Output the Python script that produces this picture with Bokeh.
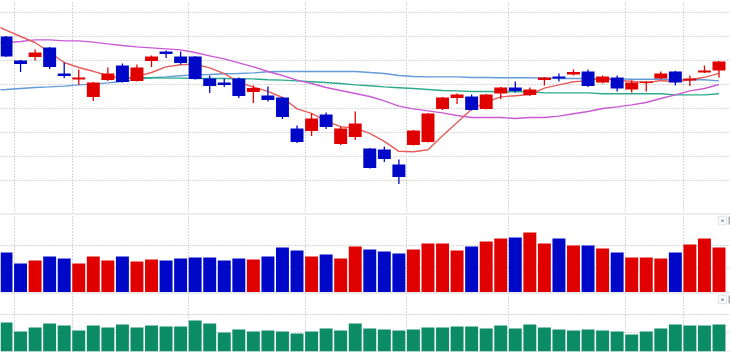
from bokeh.plotting import figure
from bokeh.layouts import column
from bokeh.models import Range1d, FixedTicker, Grid, BoxAnnotation, ColumnDataSource
from bokeh.embed import file_html
from bokeh.resources import INLINE

# ---------------- data ----------------
opens = [27720, 27600, 27617, 27665, 27535, 27505, 27417, 27502, 27575, 27497,
         27597, 27645, 27620, 27620, 27510, 27490, 27510, 27442, 27425, 27415,
         27260, 27247, 27330, 27182, 27217, 27160, 27155, 27080, 27177, 27192,
         27357, 27412, 27420, 27357, 27435, 27465, 27427, 27502, 27520, 27530,
         27545, 27490, 27515, 27455, 27488, 27510, 27545, 27500, 27540, 27550]
highs = [27722, 27602, 27655, 27667, 27590, 27555, 27492, 27565, 27585, 27580,
         27625, 27650, 27645, 27622, 27525, 27510, 27515, 27475, 27470, 27417,
         27275, 27335, 27340, 27270, 27345, 27162, 27170, 27105, 27252, 27337,
         27417, 27435, 27430, 27432, 27467, 27495, 27465, 27517, 27535, 27555,
         27555, 27525, 27525, 27500, 27497, 27545, 27547, 27525, 27575, 27597]
lows = [27618, 27542, 27600, 27557, 27512, 27477, 27397, 27497, 27490, 27495,
        27567, 27612, 27580, 27505, 27437, 27467, 27412, 27387, 27395, 27307,
        27187, 27222, 27257, 27177, 27202, 27060, 27092, 26982, 27175, 27190,
        27352, 27382, 27350, 27355, 27407, 27440, 27422, 27475, 27495, 27525,
        27467, 27485, 27445, 27440, 27445, 27508, 27475, 27472, 27538, 27515]
closes = [27620, 27582, 27640, 27567, 27522, 27515, 27490, 27535, 27492, 27565,
          27620, 27632, 27587, 27507, 27472, 27477, 27422, 27462, 27402, 27317,
          27192, 27310, 27267, 27260, 27285, 27062, 27107, 27017, 27250, 27335,
          27415, 27430, 27352, 27430, 27465, 27447, 27455, 27515, 27510, 27542,
          27472, 27520, 27460, 27490, 27495, 27535, 27490, 27510, 27550, 27595]

volume = [4000, 2900, 3200, 3600, 3400, 2900, 3600, 3200, 3600, 3100,
          3300, 3200, 3400, 3500, 3500, 3200, 3400, 3300, 3600, 4500,
          4200, 3600, 3800, 3400, 4600, 4300, 4100, 3900, 4300, 4900,
          4900, 4200, 4600, 5100, 5400, 5500, 6000, 4900, 5400, 4700,
          4700, 4400, 4000, 3500, 3500, 3400, 4000, 4800, 5400, 4500]

indicator = [29, 20, 24, 28, 26, 21, 26, 24, 27, 24,
             26, 25, 25, 31, 28, 19, 22, 20, 21, 20,
             18, 20, 23, 21, 28, 23, 22, 21, 22, 24,
             24, 25, 25, 23, 26, 23, 27, 24, 22, 21,
             22, 21, 20, 17, 20, 23, 27, 26, 26, 27]

# moving averages, bar index -1 .. 49 (index -1 lies just left of the view)
ma_x = list(range(-1, 50))
ma_red = [27785, 27752, 27720, 27690, 27640, 27590, 27565, 27546, 27525, 27510,
          27519, 27540, 27568, 27579, 27582, 27563, 27534, 27492, 27467, 27446,
          27415, 27358, 27336, 27297, 27269, 27262, 27236, 27196, 27146, 27144,
          27154, 27224, 27290, 27356, 27392, 27418, 27424, 27430, 27462, 27478,
          27494, 27498, 27512, 27500, 27496, 27488, 27500, 27494, 27504, 27516,
          27536]
ma_magenta = [27688, 27689, 27695, 27703, 27703, 27698, 27698, 27692, 27683, 27675,
              27668, 27663, 27658, 27653, 27640, 27623, 27608, 27588, 27568, 27545,
              27525, 27502, 27485, 27465, 27450, 27435, 27420, 27398, 27372, 27358,
              27348, 27338, 27325, 27315, 27315, 27315, 27310, 27315, 27315, 27322,
              27334, 27345, 27360, 27368, 27378, 27390, 27410, 27428, 27448, 27460,
              27480]
ma_blue = [27452, 27455, 27460, 27465, 27468, 27472, 27478, 27482, 27488, 27495,
           27506, 27514, 27518, 27524, 27528, 27530, 27534, 27535, 27538, 27544,
           27545, 27545, 27545, 27545, 27545, 27545, 27540, 27535, 27525, 27520,
           27518, 27518, 27518, 27515, 27515, 27514, 27514, 27514, 27512, 27510,
           27510, 27510, 27508, 27508, 27506, 27506, 27506, 27504, 27504, 27504,
           27498]
teal_x = list(range(8, 50))
ma_teal = [27514, 27514, 27514, 27512, 27512, 27510, 27510, 27510, 27508, 27508,
           27504, 27502, 27498, 27494, 27490, 27485, 27478, 27474, 27468, 27464,
           27460, 27455, 27450, 27448, 27445, 27445, 27444, 27444, 27444, 27438,
           27438, 27438, 27438, 27434, 27434, 27434, 27434, 27434, 27428, 27428,
           27428, 27434]

price_grid = [27000, 27120, 27240, 27360, 27480, 27600, 27720, 27840]
vol_grid = [2500, 4700]
ind_grid = [19, 37]
vgrid_bars = [1, 5, 13, 21, 28, 35, 43, 47]

# ---------------- styling ----------------
UP = "#e10000"
DOWN = "#0008c8"
GREEN = "#0c8c64"
GRID = "#b0b0b0"
SEP = "#b4b8bf"
ICON = "#a9aeb6"

idx = list(range(len(opens)))
colors = [UP if c >= o else DOWN for o, c in zip(opens, closes)]
src = ColumnDataSource(dict(
    x=idx, o=opens, h=highs, l=lows, c=closes,
    top=[max(o, c) for o, c in zip(opens, closes)],
    bot=[min(o, c) for o, c in zip(opens, closes)],
    col=colors, vol=volume, ind=indicator))

W = 730
xr = Range1d(-0.378, 49.79)
vlines = [b - 0.45 for b in vgrid_bars]


def strip_default_grids(f):
    f.center = [r for r in f.center if not isinstance(r, Grid)]


def make_fig(height, yr, ygrid, top_border=0, bottom_border=0):
    f = figure(width=W, height=height, x_range=xr, y_range=yr,
               output_backend="svg", toolbar_location=None,
               x_axis_location=None, y_axis_location=None,
               min_border_left=0, min_border_right=0,
               min_border_top=top_border, min_border_bottom=bottom_border)
    strip_default_grids(f)
    f.outline_line_color = None
    f.background_fill_color = "white"
    f.border_fill_color = SEP
    f.add_layout(Grid(dimension=0, ticker=FixedTicker(ticks=vlines),
                      grid_line_color=GRID, grid_line_dash="1 2"))
    f.add_layout(Grid(dimension=1, ticker=FixedTicker(ticks=ygrid),
                      grid_line_color=GRID, grid_line_dash="1 2"))
    return f


# main price panel
p = make_fig(213, Range1d(26835, 27900), price_grid)
p.border_fill_color = "white"
p.line(ma_x, ma_blue, line_color="#639cd8", line_width=1.4)
p.line(teal_x, ma_teal, line_color="#2bab8c", line_width=1.4)
p.line(ma_x, ma_magenta, line_color="#c95ad3", line_width=1.4)
p.line(ma_x, ma_red, line_color="#e65c5c", line_width=1.4)
p.segment(x0="x", y0="l", x1="x", y1="h", line_color="col", line_width=1.3, source=src)
p.vbar(x="x", width=0.89, top="top", bottom="bot", fill_color="col",
       line_color=None, source=src)

# volume panel (frame 78 px high)
v = make_fig(79, Range1d(0, 7800), vol_grid, top_border=1)
v.vbar(x="x", width=0.89, top="vol", bottom=0, fill_color="col",
       line_color=None, source=src)

# indicator panel (frame 58 px high)
g = make_fig(60, Range1d(0, 58), ind_grid, top_border=1, bottom_border=1)
g.vbar(x="x", width=0.89, top="ind", bottom=0, fill_color=GREEN,
       line_color=None, source=src)


def add_icon(f, top):
    kw = dict(left_units="screen", right_units="screen",
              top_units="screen", bottom_units="screen")
    f.add_layout(BoxAnnotation(left=718, right=726, top=top, bottom=top - 8,
                               fill_color=None, line_color=ICON, line_width=1.5, **kw))
    f.add_layout(BoxAnnotation(left=720.5, right=723.5, top=top - 3, bottom=top - 5.5,
                               fill_color=ICON, fill_alpha=1, line_color=None, **kw))
    f.add_layout(BoxAnnotation(left=728, right=731, top=top, bottom=top - 8,
                               fill_color=ICON, fill_alpha=1, line_color=None, **kw))


add_icon(v, 76)
add_icon(g, 56)

# bottom strip
s = figure(width=W, height=3, x_range=xr, y_range=Range1d(0, 1),
           output_backend="svg", toolbar_location=None,
           x_axis_location=None, y_axis_location=None, min_border=0)
strip_default_grids(s)
s.outline_line_color = None
s.background_fill_color = "#eef0f4"
s.border_fill_color = "#eef0f4"

layout = column(p, v, g, s, spacing=0)
open("out.html", "w").write(file_html(layout, INLINE))
